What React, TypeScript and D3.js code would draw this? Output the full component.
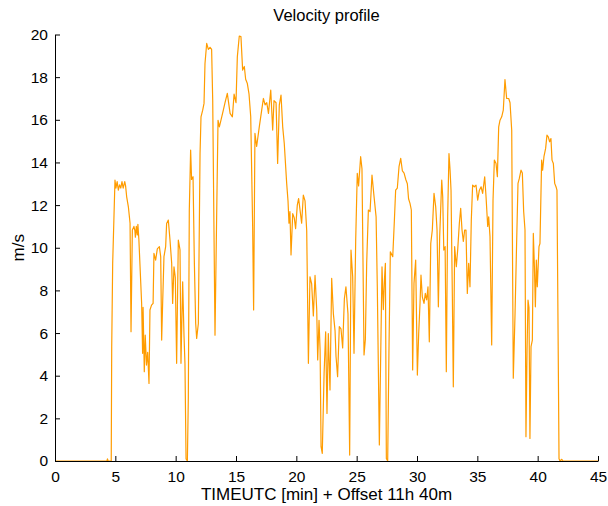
import React, { useEffect, useRef } from "react";
import * as d3 from "d3";

// readings taken off the plot: time in minutes, speed in m/s
const timeMin = [
  0, 4.3, 4.35, 4.4, 4.66, 4.7, 4.78, 4.97, 5.05, 5.15, 5.25, 5.35, 5.45, 5.55, 5.65, 5.78, 5.85,
  5.94, 6.08, 6.22, 6.3, 6.41, 6.54, 6.62, 6.66, 6.74, 6.82, 6.87, 6.95,
  7.18, 7.26, 7.3, 7.4, 7.48, 7.58, 7.68, 7.79, 7.87, 8.0, 8.13, 8.2, 8.34, 8.48, 8.65, 8.76, 8.84, 8.92,
  9.03, 9.17, 9.25, 9.39, 9.53, 9.67, 9.75, 9.86, 9.97, 10.08, 10.22, 10.36, 10.44, 10.58, 10.69, 10.77,
  10.86, 10.97, 11.05, 11.13, 11.24, 11.32, 11.44, 11.55, 11.66, 11.74, 11.88, 12.02, 12.1, 12.24, 12.35,
  12.43, 12.57, 12.71, 12.85, 12.98, 13.07, 13.26, 13.4, 13.51, 13.62, 13.76, 13.95, 14.09, 14.28, 14.51,
  14.7, 14.84, 15.0, 15.11, 15.27, 15.41, 15.55, 15.69, 15.8, 15.94, 16.08, 16.22, 16.38, 16.46, 16.57,
  16.71, 16.93, 17.13, 17.27, 17.41, 17.55, 17.69, 17.88, 18.04, 18.15, 18.32, 18.45, 18.59, 18.73, 18.87,
  19.0, 19.2, 19.31, 19.39, 19.47, 19.56, 19.7, 19.83, 19.94, 20.08, 20.19, 20.3, 20.44, 20.58, 20.72,
  20.86, 21.0, 21.13, 21.27, 21.41, 21.55, 21.69, 21.77, 21.88, 21.97, 22.05, 22.15, 22.3, 22.43, 22.54,
  22.65, 22.79, 22.93, 23.07, 23.21, 23.29, 23.42, 23.56, 23.7, 23.84, 23.98, 24.11, 24.28, 24.42, 24.53,
  24.67, 24.78, 24.92, 25.05, 25.16, 25.33, 25.44, 25.61, 25.72, 25.83, 25.97, 26.11, 26.27, 26.44, 26.61,
  26.71, 26.88, 26.99, 27.1, 27.21, 27.3, 27.38, 27.46, 27.57, 27.68, 27.79, 27.99, 28.12, 28.23, 28.37,
  28.51, 28.65, 28.79, 28.93, 29.07, 29.2, 29.3, 29.42, 29.53, 29.64, 29.75, 29.89, 30.03, 30.14, 30.25,
  30.33, 30.44, 30.58, 30.69, 30.8, 30.91, 31.02, 31.14, 31.27, 31.41, 31.55, 31.66, 31.77, 31.88, 32.05,
  32.13, 32.22, 32.33, 32.43, 32.54, 32.65, 32.74, 32.82, 32.93, 33.01, 33.12, 33.26, 33.37, 33.51, 33.62,
  33.73, 33.84, 33.95, 34.06, 34.17, 34.28, 34.39, 34.5, 34.61, 34.75, 34.89, 35.03, 35.17, 35.31, 35.44,
  35.61, 35.72, 35.86, 35.94, 36.05, 36.19, 36.3, 36.41, 36.55, 36.66, 36.77, 36.88, 37.02, 37.15, 37.29,
  37.43, 37.6, 37.71, 37.85, 37.98, 38.12, 38.23, 38.37, 38.48, 38.62, 38.73, 38.84, 38.95, 39.03, 39.12,
  39.2, 39.28, 39.36, 39.45, 39.56, 39.64, 39.73, 39.81, 39.89, 39.97, 40.11, 40.19, 40.33, 40.41, 40.52,
  40.66, 40.77, 40.88, 40.99, 41.1, 41.19, 41.3, 41.41, 41.52, 41.6, 41.69, 41.77, 41.85, 42.0, 42.1, 45,
];

const speed = [
  0, 0, 0.1, 0, 0, 5.36, 9.27, 13.17, 12.8, 13.1, 12.7, 12.95, 12.8, 13.1, 12.8, 13.1, 12.9,
  12.39, 11.92, 11.15, 6.06, 10.83, 11.0, 10.8, 10.5, 11.0, 10.6, 11.1, 10.4,
  7.39, 5.05, 7.2, 4.19, 5.9, 4.5, 5.1, 3.64, 7.08, 7.31, 7.39, 9.74, 9.42, 9.95, 10.05, 9.58, 5.67, 7.39,
  9.58, 10.05, 11.14, 11.3, 10.36, 9.27, 7.39, 9.1, 8.6, 4.58, 10.36, 9.9, 4.58, 8.4, 5.9, 4.6,
  0.1, 0, 3.0, 11.77, 14.58, 13.2, 13.33, 9.27, 6.45, 5.75, 6.45, 14.42, 16.14, 16.45, 16.77,
  18.64, 19.58, 19.3, 19.4, 19.3, 16.92, 5.9, 11.61, 15.98, 15.67, 16.0, 16.45, 16.8, 17.24, 16.3,
  16.14, 17.2, 16.8, 18.95, 19.92, 19.9, 18.33, 18.5, 17.9, 17.7, 17.2, 16.14, 11.0, 7.08, 15.36,
  14.75, 15.67, 16.45, 17.0, 16.7, 16.8, 16.3, 17.39, 15.52, 16.9, 16.8, 13.95, 16.7, 17.16, 15.67,
  14.89, 13.02, 12.2, 11.15, 11.7, 9.66, 11.6, 11.4, 10.9, 12.0, 12.31, 11.8, 11.15, 12.47, 12.2,
  10.8, 4.58, 8.64, 8.3, 6.8, 8.7, 7.08, 4.74, 6.6, 5.2, 0.67, 0.36, 4.1, 6.06, 2.23,
  5.98, 3.33, 8.56, 6.9, 6.1, 4.9, 3.95, 6.3, 6.2, 5.3, 7.6, 8.17, 6.9, 0.28, 9.89,
  8.64, 5.05, 10.36, 13.49, 12.9, 14.27, 13.7, 4.97, 5.7, 9.27, 11.77, 11.7, 13.41, 12.4, 11.45,
  8.17, 0.75, 4.9, 9.1, 7.1, 8.5, 9.27, 0.12, 0, 5.36, 9.81, 9.58, 11.22, 12.7, 12.8,
  13.8, 14.19, 13.6, 13.5, 13.2, 13.0, 12.3, 12.08, 11.77, 4.27, 8.33, 9.42, 4.03, 5.98, 7.39,
  8.72, 7.7, 7.39, 7.86, 7.55, 8.17, 5.59, 10.2, 10.83, 12.55, 11.92, 10.83, 7.23, 10.52, 13.17,
  12.4, 9.89, 10.05, 4.19, 11.45, 14.42, 13.64, 12.7, 7.7, 3.48, 10.05, 9.11, 9.89, 11.15, 11.85,
  10.83, 10.3, 10.83, 10.83, 7.86, 9.27, 8.17, 11.3, 12.94, 12.86, 12.94, 12.23, 12.7, 12.86, 12.55,
  13.33, 12.4, 11.0, 11.45, 10.52, 5.44, 12.23, 14.11, 13.95, 13.33, 15.67, 15.98, 16.14, 16.45, 17.89,
  17.0, 17.0, 16.8, 15.5, 3.88, 6.8, 9.58, 13.02, 13.25, 13.64, 13.5, 11.7, 10.83, 1.14, 5.2,
  7.55, 7.2, 1.06, 5.36, 5.67, 10.67, 9.11, 7.23, 9.42, 8.17, 10.05, 10.2, 14.11, 13.64, 14.27,
  14.66, 15.28, 15.2, 14.97, 15.12, 14.11, 13.95, 13.02, 12.86, 12.7, 6.1, 0.1, 0, 0.08, 0, 0,
];

const xTicks = [0, 5, 10, 15, 20, 25, 30, 35, 40, 45];
const yTicks = [0, 2, 4, 6, 8, 10, 12, 14, 16, 18, 20];

const W = 608;
const H = 506;
const margin = { left: 55, right: 10, top: 34.5, bottom: 45 };
const font = "'Liberation Sans', Arial, Helvetica, sans-serif";

const App = () => {
  const ref = useRef<SVGSVGElement>(null);

  useEffect(() => {
    const svg = d3.select(ref.current);
    svg.selectAll("*").remove();

    const x = d3.scaleLinear().domain([0, 45]).range([margin.left, W - margin.right]);
    const y = d3.scaleLinear().domain([0, 20]).range([H - margin.bottom, margin.top]);

    const pts: [number, number][] = timeMin.map((t, i) => [t, speed[i]]);
    const line = d3
      .line<[number, number]>()
      .x((d) => x(d[0]))
      .y((d) => y(d[1]));

    svg
      .append("path")
      .attr("d", line(pts))
      .attr("fill", "none")
      .attr("stroke", "#ff9c00")
      .attr("stroke-width", 1.2)
      .attr("stroke-linejoin", "round");

    const gx = svg
      .append("g")
      .attr("transform", `translate(0,${y(0)})`)
      .call(d3.axisBottom(x).tickValues(xTicks).tickSizeInner(-5).tickSizeOuter(0).tickPadding(10));
    const gy = svg
      .append("g")
      .attr("transform", `translate(${x(0)},0)`)
      .call(d3.axisLeft(y).tickValues(yTicks).tickSizeInner(-5).tickSizeOuter(0).tickPadding(7));

    [gx, gy].forEach((g) => {
      g.selectAll("text").attr("font-size", 15.5).attr("font-family", font).attr("fill", "#000");
      g.selectAll("line,path").attr("stroke", "#000");
    });

    svg
      .append("text")
      .attr("x", (x(0) + x(45)) / 2)
      .attr("y", 21)
      .attr("text-anchor", "middle")
      .attr("font-family", font)
      .attr("font-size", 16.5)
      .text("Velocity profile");

    svg
      .append("text")
      .attr("x", (x(0) + x(45)) / 2)
      .attr("y", 500)
      .attr("text-anchor", "middle")
      .attr("font-family", font)
      .attr("font-size", 17)
      .text("TIMEUTC [min] + Offset 11h 40m");

    svg
      .append("text")
      .attr("transform", `translate(24,${(y(0) + y(20)) / 2}) rotate(-90)`)
      .attr("text-anchor", "middle")
      .attr("font-family", font)
      .attr("font-size", 17)
      .text("m/s");
  }, []);

  return (
    <svg
      ref={ref}
      width={W}
      height={H}
      style={{ position: "absolute", left: 0, top: 0, background: "#fff" }}
    />
  );
};

export default App;
